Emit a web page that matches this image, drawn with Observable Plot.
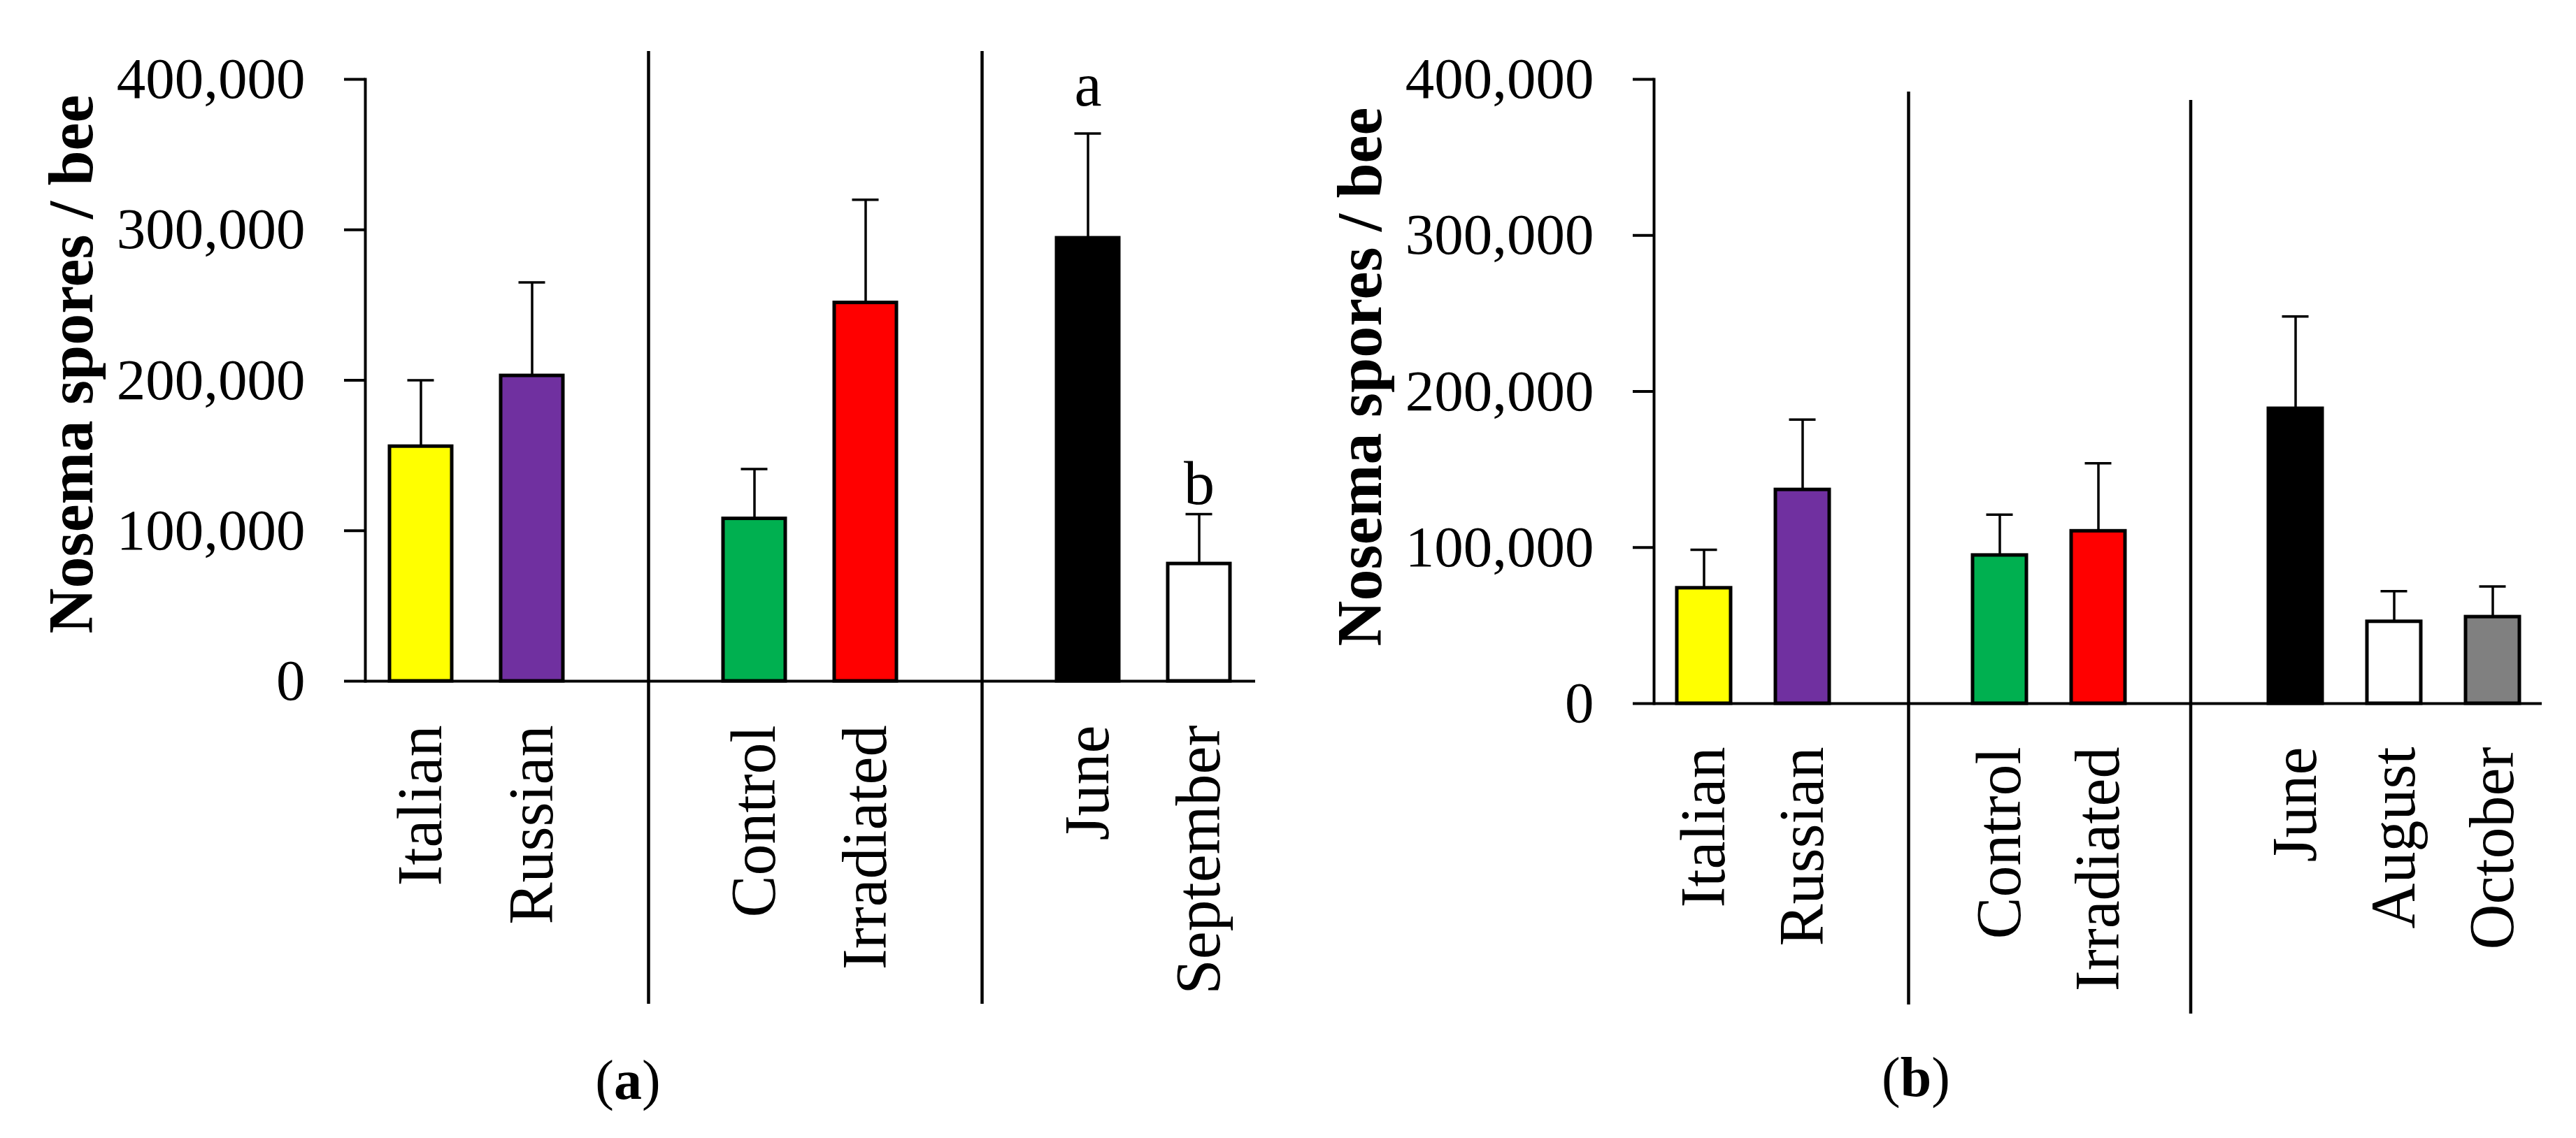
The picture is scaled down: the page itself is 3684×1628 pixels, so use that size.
<!DOCTYPE html>
<html>
<head>
<meta charset="utf-8">
<script src="https://cdn.jsdelivr.net/npm/d3@7"></script>
<script src="https://cdn.jsdelivr.net/npm/@observablehq/plot@0.6"></script>
<style>
html, body { margin: 0; padding: 0; background: #fff; }
#root { position: relative; width: 3684px; height: 1628px; overflow: hidden; background: #fff; font-family: "Liberation Serif", serif; color: #000; }
.panel { position: absolute; top: 0; }
.cap { position: absolute; font-size: 80px; line-height: 1; transform: translateX(-50%); color: #000; font-family: "Liberation Serif", serif; white-space: nowrap; }
</style>
</head>
<body>
<div id="root"></div>
<script>
// ---- data: panel (a) ----
const catsA   = ["Italian", "Russian", "Control", "Irradiated", "June", "September"];
const meanA   = [156000, 203000, 108000, 251500, 294500, 78000];
const semA    = [44000, 62000, 33000, 68500, 69500, 33000];
const colorsA = ["#FFFF00", "#7030A0", "#00B050", "#FF0000", "#000000", "#FFFFFF"];
const lettersA = ["", "", "", "", "a", "b"];
const domainA = ["Italian", "Russian", "gap1", "Control", "Irradiated", "gap2", "June", "September"];

// ---- data: panel (b) ----
const catsB   = ["Italian", "Russian", "Control", "Irradiated", "June", "August", "October"];
const meanB   = [74000, 137000, 95000, 110500, 189000, 52500, 55500];
const semB    = [24500, 45000, 26000, 43500, 59000, 19500, 19500];
const colorsB = ["#FFFF00", "#7030A0", "#00B050", "#FF0000", "#000000", "#FFFFFF", "#808080"];
const domainB = ["Italian", "Russian", "gap1", "Control", "Irradiated", "gap2", "June", "August", "October"];

const yTicks = [0, 100000, 200000, 300000, 400000];
const yTitle = "Nosema spores / bee";

const rowsA = catsA.map((c, i) => ({cat: c, mean: meanA[i], top: meanA[i] + semA[i], color: colorsA[i], letter: lettersA[i]}));
const rowsB = catsB.map((c, i) => ({cat: c, mean: meanB[i], top: meanB[i] + semB[i], color: colorsB[i]}));

const fmt = d3.format(",");
const baseStyle = {fontFamily: "'Liberation Serif', serif", background: "transparent", color: "#000", overflow: "visible"};

const plotA = Plot.plot({
  width: 1842, height: 1628,
  marginLeft: 522, marginRight: 47, marginTop: 113, marginBottom: 654,
  style: baseStyle,
  x: {domain: domainA, paddingInner: 0.44, paddingOuter: 0.223, align: 0.5},
  y: {domain: [0, 400000]},
  color: {type: "identity"},
  marks: [
    Plot.ruleX(["gap1"], {stroke: "#000", strokeWidth: 4.5, insetTop: -40, insetBottom: -462, dx: 7.5}),
    Plot.ruleX(["gap2"], {stroke: "#000", strokeWidth: 4.5, insetTop: -40, insetBottom: -462, dx: 7.5}),
    Plot.ruleX(rowsA, {x: "cat", y1: "mean", y2: "top", stroke: "#000", strokeWidth: 3.5}),
    Plot.tickY(rowsA, {x: "cat", y: "top", stroke: "#000", strokeWidth: 3.5, insetLeft: 25.5, insetRight: 25.5}),
    Plot.barY(rowsA, {x: "cat", y: "mean", fill: "color", stroke: "#000", strokeWidth: 5}),
    Plot.ruleY([0], {stroke: "#000", strokeWidth: 4}),
    Plot.frame({anchor: "left", stroke: "#000", strokeWidth: 4}),
    Plot.axisY({ticks: yTicks, tickFormat: fmt, tickSize: 30, tickPadding: 56, fontSize: 83, strokeWidth: 4, label: null, fill: "#000"}),
    Plot.axisX({ticks: catsA, tickRotate: -90, tickSize: 0, tickPadding: 63, fontSize: 90, label: null, fill: "#000"}),
    Plot.text([yTitle], {frameAnchor: "left", textAnchor: "middle", rotate: -90, dx: -419, dy: -23, fontSize: 90, fontWeight: "bold", fill: "#000"}),
    Plot.text(rowsA.filter(d => d.letter === "a"), {x: "cat", y: "top", text: "letter", fontSize: 88, dy: -68, fill: "#000"}),
    Plot.text(rowsA.filter(d => d.letter === "b"), {x: "cat", y: "top", text: "letter", fontSize: 88, dy: -43, fill: "#000"})
  ]
});

const plotB = Plot.plot({
  width: 1842, height: 1628,
  marginLeft: 523, marginRight: 49, marginTop: 113, marginBottom: 622,
  style: baseStyle,
  x: {domain: domainB, paddingInner: 0.455, paddingOuter: 0.223, align: 0.5},
  y: {domain: [0, 400000]},
  color: {type: "identity"},
  marks: [
    Plot.ruleX(["gap1"], {stroke: "#000", strokeWidth: 4.5, insetTop: 18, insetBottom: -431, dx: 10.5}),
    Plot.ruleX(["gap2"], {stroke: "#000", strokeWidth: 4.5, insetTop: 30, insetBottom: -444, dx: -9}),
    Plot.ruleX(rowsB, {x: "cat", y1: "mean", y2: "top", stroke: "#000", strokeWidth: 3.5}),
    Plot.tickY(rowsB, {x: "cat", y: "top", stroke: "#000", strokeWidth: 3.5, insetLeft: 19.5, insetRight: 19.5}),
    Plot.barY(rowsB, {x: "cat", y: "mean", fill: "color", stroke: "#000", strokeWidth: 5}),
    Plot.ruleY([0], {stroke: "#000", strokeWidth: 4}),
    Plot.frame({anchor: "left", stroke: "#000", strokeWidth: 4}),
    Plot.axisY({ticks: yTicks, tickFormat: fmt, tickSize: 30, tickPadding: 56, fontSize: 83, strokeWidth: 4, label: null, fill: "#000"}),
    Plot.axisX({ticks: catsB, tickRotate: -90, tickSize: 0, tickPadding: 62, fontSize: 90, label: null, fill: "#000"}),
    Plot.text([yTitle], {frameAnchor: "left", textAnchor: "middle", rotate: -90, dx: -419, dy: -21, fontSize: 90, fontWeight: "bold", fill: "#000"})
  ]
});

const root = document.getElementById("root");
plotA.classList.add("panel"); plotA.style.left = "0px";
plotB.classList.add("panel"); plotB.style.left = "1842px";
root.appendChild(plotA);
root.appendChild(plotB);

const capA = document.createElement("div");
capA.className = "cap"; capA.style.left = "898px"; capA.style.top = "1505px";
capA.innerHTML = "(<b>a</b>)";
const capB = document.createElement("div");
capB.className = "cap"; capB.style.left = "2740px"; capB.style.top = "1501px";
capB.innerHTML = "(<b>b</b>)";
root.appendChild(capA);
root.appendChild(capB);
</script>
</body>
</html>
